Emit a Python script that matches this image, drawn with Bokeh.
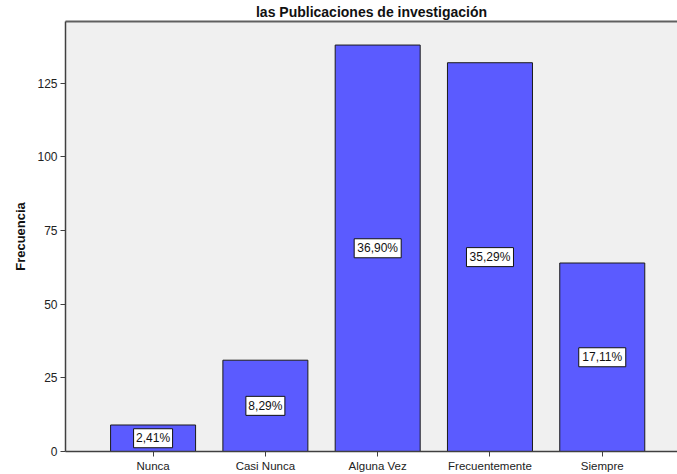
from bokeh.plotting import figure
from bokeh.models import Range1d, FixedTicker, LinearAxis, ColumnDataSource
from bokeh.core.properties import value
from bokeh.embed import file_html
from bokeh.resources import INLINE

categories = ["Nunca", "Casi Nunca", "Alguna Vez", "Frecuentemente", "Siempre"]
counts = [9, 31, 138, 132, 64]
pct_labels = ["2,41%", "8,29%", "36,90%", "35,29%", "17,11%"]
y_ticks = [0, 25, 50, 75, 100, 125]
title_text = "las Publicaciones de investigación"
y_label = "Frecuencia"

FONT = "Liberation Sans"
xs = list(range(len(categories)))
src = ColumnDataSource(dict(
    x=xs,
    top=counts,
    mid=[c / 2 for c in counts],
    lab=pct_labels,
    box_w=[8 * len(s) - 1 for s in pct_labels],
))

p = figure(width=677, height=474, output_backend="svg", toolbar_location=None,
           x_range=Range1d(-0.78, 4.67), y_range=Range1d(0, 146),
           min_border_left=65, min_border_right=0, min_border_top=0,
           min_border_bottom=21)

p.title.text = title_text
p.title.align = "center"
p.title.text_font = FONT
p.title.text_font_size = "14px"
p.title.text_font_style = "bold"
p.title.text_color = "#111111"
p.title.standoff = 3

p.background_fill_color = "#F0F0F0"
p.border_fill_color = "white"
p.outline_line_color = None
p.xgrid.visible = False
p.ygrid.visible = False

top_ax = LinearAxis(ticker=FixedTicker(ticks=[]), major_label_text_font_size="0px",
                    major_label_standoff=0,
                    major_tick_out=0, major_tick_in=0, minor_tick_out=0, minor_tick_in=0,
                    axis_line_color="#606060", axis_line_width=2)
p.add_layout(top_ax, "above")

p.yaxis.ticker = FixedTicker(ticks=y_ticks)
p.yaxis.axis_label = y_label
p.yaxis.axis_label_text_font = FONT
p.yaxis.axis_label_text_font_size = "13px"
p.yaxis.axis_label_text_font_style = "bold"
p.yaxis.axis_label_text_color = "#111111"
p.yaxis.axis_label_standoff = 6
p.yaxis.major_label_text_font = FONT
p.yaxis.major_label_text_font_size = "12px"
p.yaxis.major_label_text_color = "#222222"
p.yaxis.major_label_standoff = 3
p.yaxis.major_tick_out = 5
p.yaxis.major_tick_in = 0
p.yaxis.minor_tick_out = 0
p.yaxis.minor_tick_in = 0
p.yaxis.axis_line_color = "#404040"
p.yaxis.axis_line_width = 1.5
p.yaxis.major_tick_line_color = "#404040"

bx = p.below[0]
bx.ticker = FixedTicker(ticks=xs)
bx.major_label_overrides = {i: c for i, c in enumerate(categories)}
bx.major_label_text_font = FONT
bx.major_label_text_font_size = "11.5px"
bx.major_label_text_color = "#222222"
bx.major_label_standoff = 3
bx.major_tick_out = 5
bx.major_tick_in = 0
bx.minor_tick_out = 0
bx.minor_tick_in = 0
bx.axis_line_color = "#404040"
bx.axis_line_width = 1.5
bx.major_tick_line_color = "#404040"

p.vbar(x="x", top="top", bottom=0, width=0.757, source=src,
       fill_color="#5B5BFF", line_color="#1a1a1a", line_width=1)

p.rect(x="x", y="mid", width="box_w", height=19, width_units="screen",
       height_units="screen", source=src, fill_color="white",
       line_color="#111111", line_width=1)
p.text(x="x", y="mid", text="lab", source=src, text_font=value(FONT),
       text_font_size="12px", text_align="center", text_baseline="middle",
       text_color="#111111")

open("out.html", "w").write(file_html(p, INLINE))
